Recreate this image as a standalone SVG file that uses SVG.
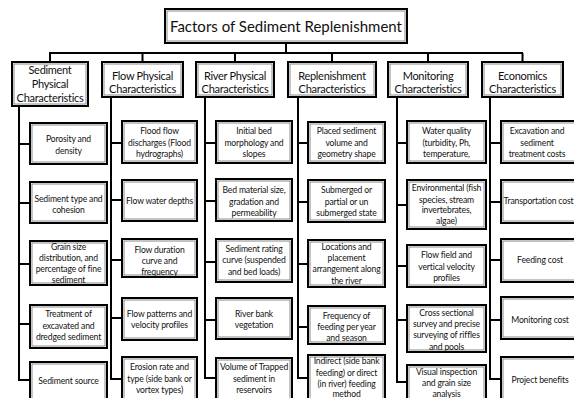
<svg xmlns="http://www.w3.org/2000/svg" width="574" height="398" viewBox="0 0 574 398">
<style>
.bx{fill:#fff;stroke:#000;stroke-width:2}
.in{fill:none;stroke:#8a8a8a;stroke-width:1}
.ln{fill:none;stroke:#000;stroke-width:2}
text{font-family:Lato,"Open Sans","Liberation Sans",sans-serif;fill:#111;text-anchor:middle}
.t{font-size:15px}
.c{font-size:11px;letter-spacing:-0.3px}
.s{font-size:8.6px;letter-spacing:-0.15px}
</style>
<rect width="574" height="398" fill="#fff"/>
<g id="connectors">
<path class="ln" d="M286 43V53M49 53H523M50 53V62M142.5 53V62M235 53V62M332 53V62M428 53V62M522.5 53V62"/>
<path class="ln" d="M19 106V380H30M19 144H30M19 203H30M19 264H30M19 324H30"/>
<path class="ln" d="M111 97V379H122M111 143H122M111 200H122M111 260H122M111 318H122"/>
<path class="ln" d="M205 97V378H216M205 143H216M205 201H216M205 262H216M205 320H216"/>
<path class="ln" d="M298 97V378H308M298 143H308M298 202H308M298 264H308M298 327H308"/>
<path class="ln" d="M397 97V382H407M397 143H407M397 205H407M397 266H407M397 320H407"/>
<path class="ln" d="M490 97V379H501M490 143H501M490 202H501M490 260H501M490 320H501"/>
</g>
<g id="title"><rect class="bx" x="165" y="9" width="242" height="34"/><rect class="in" x="167" y="11" width="238" height="30"/><text class="t" x="286" y="31.5">Factors of Sediment Replenishment</text></g>

<g id="cat-sediment"><rect class="bx" x="12" y="62" width="76" height="44"/><rect class="in" x="14" y="64" width="72" height="40"/><text class="c"><tspan x="50" y="74">Sediment</tspan><tspan x="50" y="88">Physical</tspan><tspan x="50" y="102">Characteristics</tspan></text></g>
<g id="cat-flow"><rect class="bx" x="102" y="62" width="81" height="35"/><rect class="in" x="104" y="64" width="77" height="31"/><text class="c"><tspan x="142.5" y="79.5">Flow Physical</tspan><tspan x="142.5" y="93">Characteristics</tspan></text></g>
<g id="cat-river"><rect class="bx" x="196" y="62" width="78" height="35"/><rect class="in" x="198" y="64" width="74" height="31"/><text class="c"><tspan x="235" y="79.5">River Physical</tspan><tspan x="235" y="93">Characteristics</tspan></text></g>
<g id="cat-replenishment"><rect class="bx" x="288" y="62" width="88" height="35"/><rect class="in" x="290" y="64" width="84" height="31"/><text class="c"><tspan x="332" y="79.5">Replenishment</tspan><tspan x="332" y="93">Characteristics</tspan></text></g>
<g id="cat-monitoring"><rect class="bx" x="388" y="62" width="80" height="35"/><rect class="in" x="390" y="64" width="76" height="31"/><text class="c"><tspan x="428" y="79.5">Monitoring</tspan><tspan x="428" y="93">Characteristics</tspan></text></g>
<g id="cat-economics"><rect class="bx" x="482" y="62" width="81" height="35"/><rect class="in" x="484" y="64" width="77" height="31"/><text class="c"><tspan x="522.5" y="79.5">Economics</tspan><tspan x="522.5" y="93">Characteristics</tspan></text></g>

<g id="sed-1"><rect class="bx" x="30" y="123" width="77" height="41"/><rect class="in" x="32" y="125" width="73" height="37"/><text class="s"><tspan x="68.5" y="142">Porosity and</tspan><tspan x="68.5" y="154">density</tspan></text></g>
<g id="sed-2"><rect class="bx" x="30" y="182" width="77" height="41"/><rect class="in" x="32" y="184" width="73" height="37"/><text class="s"><tspan x="68.5" y="202">Sediment type  and</tspan><tspan x="68.5" y="213">cohesion</tspan></text></g>
<g id="sed-3"><rect class="bx" x="30" y="241" width="77" height="44"/><rect class="in" x="32" y="243" width="73" height="40"/><text class="s"><tspan x="68.5" y="249.5">Grain size</tspan><tspan x="68.5" y="260.5">distribution, and</tspan><tspan x="68.5" y="271.5">percentage of fine</tspan><tspan x="68.5" y="282.5">sediment</tspan></text></g>
<g id="sed-4"><rect class="bx" x="30" y="305" width="77" height="43"/><rect class="in" x="32" y="307" width="73" height="39"/><text class="s"><tspan x="68.5" y="316.5">Treatment of</tspan><tspan x="68.5" y="328.5">excavated  and</tspan><tspan x="68.5" y="340">dredged sediment</tspan></text></g>
<g id="sed-5"><rect class="bx" x="30" y="362" width="77" height="40"/><rect class="in" x="32" y="364" width="73" height="38"/><text class="s"><tspan x="68.5" y="384">Sediment source</tspan></text></g>

<g id="flow-1"><rect class="bx" x="122" y="121" width="75" height="42"/><rect class="in" x="124" y="123" width="71" height="38"/><text class="s"><tspan x="159.5" y="133.5">Flood flow</tspan><tspan x="159.5" y="145.5">discharges (Flood</tspan><tspan x="159.5" y="156.5">hydrographs)</tspan></text></g>
<g id="flow-2"><rect class="bx" x="122" y="180" width="75" height="41"/><rect class="in" x="124" y="182" width="71" height="37"/><text class="s"><tspan x="159.5" y="203.5">Flow water depths</tspan></text></g>
<g id="flow-3"><rect class="bx" x="122" y="239" width="75" height="38"/><rect class="in" x="124" y="241" width="71" height="34"/><text class="s"><tspan x="159.5" y="252.5">Flow duration</tspan><tspan x="159.5" y="263.5">curve and</tspan><tspan x="159.5" y="274.5">frequency</tspan></text></g>
<g id="flow-4"><rect class="bx" x="122" y="298" width="75" height="42"/><rect class="in" x="124" y="300" width="71" height="38"/><text class="s"><tspan x="159.5" y="316.5">Flow patterns and</tspan><tspan x="159.5" y="328">velocity profiles</tspan></text></g>
<g id="flow-5"><rect class="bx" x="122" y="357" width="75" height="45"/><rect class="in" x="124" y="359" width="71" height="43"/><text class="s"><tspan x="159.5" y="369.5">Erosion rate and</tspan><tspan x="159.5" y="381.5">type (side bank or</tspan><tspan x="159.5" y="392.5">vortex types)</tspan></text></g>

<g id="river-1"><rect class="bx" x="216" y="121" width="76" height="42"/><rect class="in" x="218" y="123" width="72" height="38"/><text class="s"><tspan x="254" y="133.5">Initial bed</tspan><tspan x="254" y="145.5">morphology and</tspan><tspan x="254" y="156.5">slopes</tspan></text></g>
<g id="river-2"><rect class="bx" x="216" y="179" width="76" height="42"/><rect class="in" x="218" y="181" width="72" height="38"/><text class="s"><tspan x="254" y="193">Bed material size,</tspan><tspan x="254" y="204.5">gradation and</tspan><tspan x="254" y="215.5">permeability</tspan></text></g>
<g id="river-3"><rect class="bx" x="216" y="239" width="76" height="43"/><rect class="in" x="218" y="241" width="72" height="39"/><text class="s"><tspan x="254" y="251.5">Sediment rating</tspan><tspan x="254" y="263">curve (suspended</tspan><tspan x="254" y="275">and bed loads)</tspan></text></g>
<g id="river-4"><rect class="bx" x="216" y="298" width="76" height="41"/><rect class="in" x="218" y="300" width="72" height="37"/><text class="s"><tspan x="254" y="316.5">River bank</tspan><tspan x="254" y="328">vegetation</tspan></text></g>
<g id="river-5"><rect class="bx" x="216" y="358" width="76" height="44"/><rect class="in" x="218" y="360" width="72" height="42"/><text class="s"><tspan x="254" y="369.5">Volume of Trapped</tspan><tspan x="254" y="381.5">sediment in</tspan><tspan x="254" y="392.5">reservoirs</tspan></text></g>

<g id="rep-1"><rect class="bx" x="308" y="122" width="77" height="41"/><rect class="in" x="310" y="124" width="73" height="37"/><text class="s"><tspan x="346.5" y="133.5">Placed sediment</tspan><tspan x="346.5" y="145.5">volume and</tspan><tspan x="346.5" y="156.5">geometry shape</tspan></text></g>
<g id="rep-2"><rect class="bx" x="308" y="180" width="77" height="42"/><rect class="in" x="310" y="182" width="73" height="38"/><text class="s"><tspan x="346.5" y="193">Submerged or</tspan><tspan x="346.5" y="204.5">partial or un</tspan><tspan x="346.5" y="215.5">submerged state</tspan></text></g>
<g id="rep-3"><rect class="bx" x="308" y="240" width="77" height="47"/><rect class="in" x="310" y="242" width="73" height="43"/><text class="s"><tspan x="346.5" y="249.5">Locations and</tspan><tspan x="346.5" y="260.5">placement</tspan><tspan x="346.5" y="272">arrangement along</tspan><tspan x="346.5" y="283.5">the river</tspan></text></g>
<g id="rep-4"><rect class="bx" x="308" y="306" width="77" height="38"/><rect class="in" x="310" y="308" width="73" height="34"/><text class="s"><tspan x="346.5" y="318.5">Frequency of</tspan><tspan x="346.5" y="330">feeding per year</tspan><tspan x="346.5" y="341">and season</tspan></text></g>
<g id="rep-5"><rect class="bx" x="308" y="355" width="77" height="47"/><rect class="in" x="310" y="357" width="73" height="45"/><text class="s"><tspan x="346.5" y="363.5">Indirect  (side bank</tspan><tspan x="346.5" y="375.5">feeding) or direct</tspan><tspan x="346.5" y="387">(in river) feeding</tspan><tspan x="346.5" y="397">method</tspan></text></g>

<g id="mon-1"><rect class="bx" x="407" y="121" width="79" height="42"/><rect class="in" x="409" y="123" width="75" height="38"/><text class="s"><tspan x="446.5" y="133.5">Water quality</tspan><tspan x="446.5" y="145.5">(turbidity, Ph,</tspan><tspan x="446.5" y="156.5">temperature,</tspan></text></g>
<g id="mon-2"><rect class="bx" x="407" y="180" width="79" height="49"/><rect class="in" x="409" y="182" width="75" height="45"/><text class="s"><tspan x="446.5" y="191">Environmental (fish</tspan><tspan x="446.5" y="202.5">species, stream</tspan><tspan x="446.5" y="213">invertebrates,</tspan><tspan x="446.5" y="223.5">algae)</tspan></text></g>
<g id="mon-3"><rect class="bx" x="407" y="245" width="79" height="42"/><rect class="in" x="409" y="247" width="75" height="38"/><text class="s"><tspan x="446.5" y="258">Flow field and</tspan><tspan x="446.5" y="269.5">vertical velocity</tspan><tspan x="446.5" y="280.5">profiles</tspan></text></g>
<g id="mon-4"><rect class="bx" x="407" y="305" width="79" height="47"/><rect class="in" x="409" y="307" width="75" height="43"/><text class="s"><tspan x="446.5" y="315.5">Cross sectional</tspan><tspan x="446.5" y="327">survey and precise</tspan><tspan x="446.5" y="338">surveying of riffles</tspan><tspan x="446.5" y="349.5">and pools</tspan></text></g>
<g id="mon-5"><rect class="bx" x="407" y="365" width="79" height="37"/><rect class="in" x="409" y="367" width="75" height="35"/><text class="s"><tspan x="446.5" y="374.5">Visual inspection</tspan><tspan x="446.5" y="385.5">and grain size</tspan><tspan x="446.5" y="396.5">analysis</tspan></text></g>

<g id="eco-1"><rect class="bx" x="501" y="121" width="79" height="42"/><rect class="in" x="503" y="123" width="75" height="38"/><text class="s"><tspan x="537" y="133.5">Excavation and</tspan><tspan x="537" y="145.5">sediment</tspan><tspan x="537" y="156.5">treatment costs</tspan></text></g>
<g id="eco-2"><rect class="bx" x="501" y="180" width="79" height="43"/><rect class="in" x="503" y="182" width="75" height="39"/><text class="s" style="text-anchor:start"><tspan x="503.5" y="203.5">Transportation cost</tspan></text></g>
<g id="eco-3"><rect class="bx" x="501" y="239" width="79" height="43"/><rect class="in" x="503" y="241" width="75" height="39"/><text class="s"><tspan x="540" y="262.5">Feeding cost</tspan></text></g>
<g id="eco-4"><rect class="bx" x="501" y="297" width="79" height="42"/><rect class="in" x="503" y="299" width="75" height="38"/><text class="s"><tspan x="540" y="322.5">Monitoring cost</tspan></text></g>
<g id="eco-5"><rect class="bx" x="501" y="357" width="79" height="45"/><rect class="in" x="503" y="359" width="75" height="43"/><text class="s"><tspan x="540" y="382.5">Project benefits</tspan></text></g>
</svg>
